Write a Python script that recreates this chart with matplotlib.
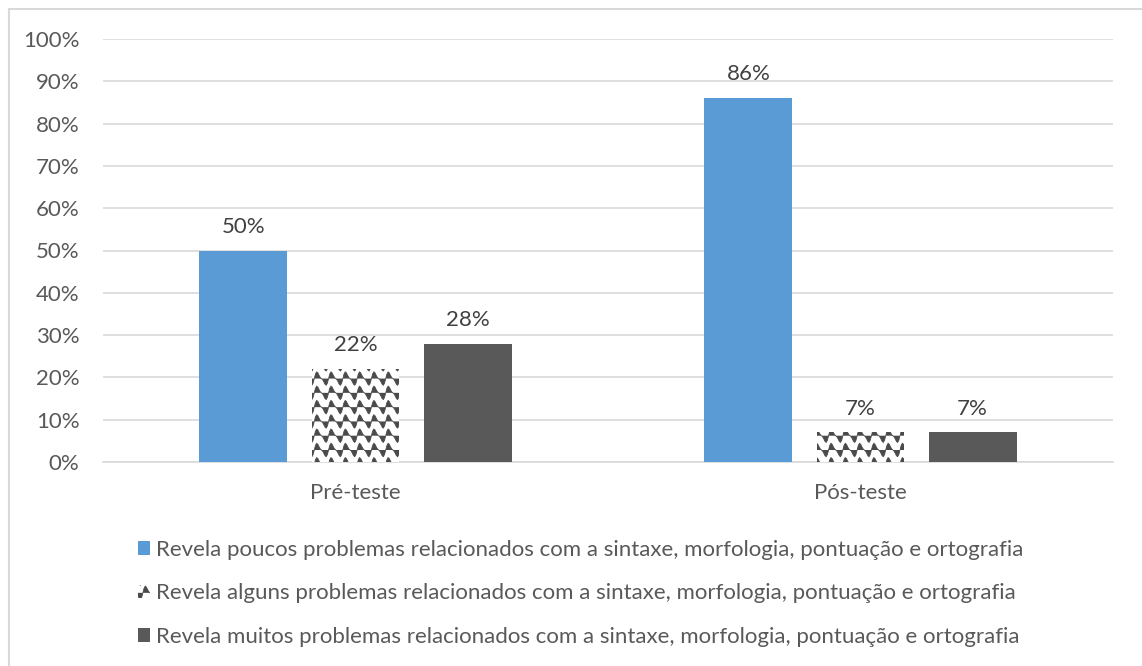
import numpy as np
import matplotlib
matplotlib.use("Agg")
import matplotlib.pyplot as plt
import matplotlib.hatch as mhatch
from matplotlib.path import Path
from matplotlib.patches import Rectangle
from matplotlib.ticker import PercentFormatter

# ---- data ----
categories = ["Pré-teste", "Pós-teste"]
series_labels = [
    "Revela poucos problemas relacionados com a sintaxe, morfologia, pontuação e ortografia",
    "Revela alguns problemas relacionados com a sintaxe, morfologia, pontuação e ortografia",
    "Revela muitos problemas relacionados com a sintaxe, morfologia, pontuação e ortografia",
]
poucos = [0.50, 0.86]
alguns = [0.22, 0.07]
muitos = [0.28, 0.07]
yticks = [0.0, 0.1, 0.2, 0.3, 0.4, 0.5, 0.6, 0.7, 0.8, 0.9, 1.0]


# ---- custom wave hatch (replaces 'O') ----
class WaveHatch(mhatch.HatchPatternBase):
    def __init__(self, hatch, density):
        self.num_rows = int(hatch.count('O') * 7)
        self.periods = 7
        self.pts = self.periods * 12 + 1
        self.num_vertices = self.num_rows * self.pts

    def set_vertices_and_codes(self, vertices, codes):
        xs = np.linspace(0, 1, self.pts)
        k = 0
        n = self.num_rows
        for i in range(n):
            ph = 2 * np.pi * self.periods * xs
            ys = (i + 0.5) / n + 0.40 / n * (np.sin(ph) + 0.35 * np.sin(2 * ph))
            vertices[k:k + self.pts, 0] = xs
            vertices[k:k + self.pts, 1] = ys
            codes[k] = Path.MOVETO
            codes[k + 1:k + self.pts] = Path.LINETO
            k += self.pts


mhatch._hatch_types = [t for t in mhatch._hatch_types
                       if t is not mhatch.LargeCircles] + [WaveHatch]

plt.rcParams['font.family'] = ['Lato', 'DejaVu Sans']
plt.rcParams['hatch.linewidth'] = 0.6
plt.rcParams['hatch.color'] = '#4a4a4a'

TXT = '#595959'
W, H = 1142, 666
fig = plt.figure(figsize=(W / 100, H / 100), dpi=100)
fig.patches.append(Rectangle((9 / W, -0.1), 2, 1.1 - 9 / H, transform=fig.transFigure,
                             fill=False, edgecolor='#D9D9D9', linewidth=1.5))

ax = fig.add_axes([103 / W, (H - 462) / H, (1113 - 103) / W, (462 - 39) / H])
x = np.arange(len(categories))
bw = 0.174
off = 0.222
b1 = ax.bar(x - off, poucos, bw, color='#5B9BD5', label=series_labels[0], zorder=3)
b2 = ax.bar(x, alguns, bw, facecolor='white', edgecolor='#4a4a4a', hatch='O',
            linewidth=0, label=series_labels[1], zorder=3)
b3 = ax.bar(x + off, muitos, bw, color='#595959', label=series_labels[2], zorder=3)

for bars in (b1, b2, b3):
    ax.bar_label(bars, labels=[f"{v*100:.0f}%" for v in bars.datavalues],
                 padding=10, fontsize=16, color='#404040')

ax.set_xlim(-0.5, 1.5)
ax.set_ylim(0, 1)
ax.set_yticks(yticks)
ax.yaxis.set_major_formatter(PercentFormatter(1.0, decimals=0))
ax.set_xticks(x)
ax.set_xticklabels(categories)
ax.grid(axis='y', color='#D9D9D9', linewidth=1.2, zorder=0)
for s in ('top', 'right', 'left'):
    ax.spines[s].set_visible(False)
ax.spines['bottom'].set_color('#D9D9D9')
ax.spines['bottom'].set_linewidth(1.2)
ax.tick_params(axis='both', length=0, labelsize=16, colors=TXT)
ax.tick_params(axis='y', pad=17)
ax.tick_params(axis='x', pad=15)

leg = fig.legend(handles=[b1, b2, b3], loc='upper left',
                 bbox_to_anchor=(118 / W, (H - 520) / H), frameon=False,
                 fontsize=16, labelcolor=TXT, handlelength=0.55, handleheight=0.55,
                 handletextpad=0.25, labelspacing=1.05)

fig.savefig("out.png", dpi=100)
